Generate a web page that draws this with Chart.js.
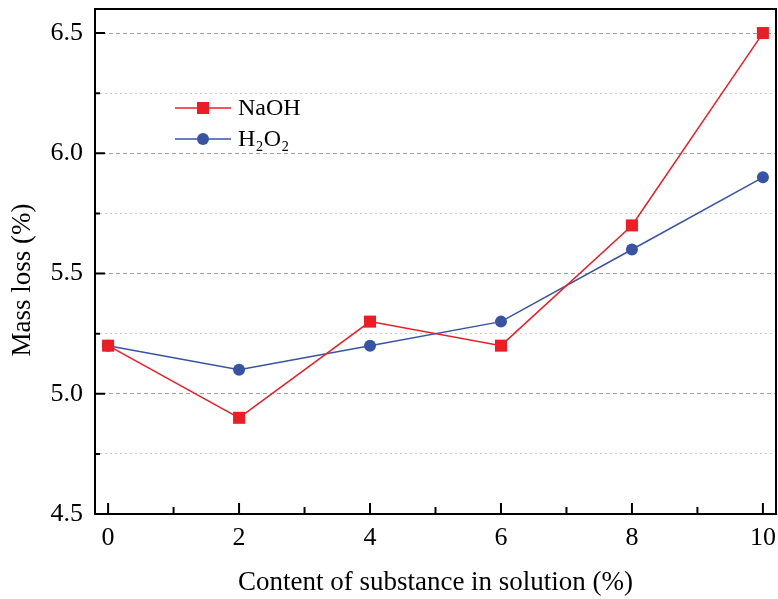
<!DOCTYPE html>
<html>
<head>
<meta charset="utf-8">
<script src="https://cdn.jsdelivr.net/npm/chart.js@4"></script>
<style>
html,body{margin:0;padding:0;background:#fff;}
#wrap{width:778px;height:599px;position:relative;}
</style>
</head>
<body>
<div id="wrap"><canvas id="c" width="778" height="599"></canvas></div>
<script>
const xValues = [0, 2, 4, 6, 8, 10];
const naohValues = [5.2, 4.9, 5.3, 5.2, 5.7, 6.5];
const h2o2Values = [5.2, 5.1, 5.2, 5.3, 5.6, 5.9];
const seriesLabels = ['NaOH', 'H₂O₂'];
const xMajorTicks = [0, 2, 4, 6, 8, 10];
const xMinorTicks = [1, 3, 5, 7, 9];
const yTicks = [4.5, 4.75, 5.0, 5.25, 5.5, 5.75, 6.0, 6.25, 6.5];
const yMajorTicks = [4.5, 5.0, 5.5, 6.0, 6.5];
const xTitle = 'Content of substance in solution (%)';
const yTitle = 'Mass loss (%)';

const RED = '#ee1c25';
const BLUE = '#3953a4';
const FONT = '"Liberation Serif", "Times New Roman", serif';

function isMajorY(v){ return yMajorTicks.some(m => Math.abs(m - v) < 1e-6); }

const framePlugin = {
  id: 'frame',
  afterDraw(chart) {
    const ctx = chart.ctx;
    const a = chart.chartArea;
    const xs = chart.scales.x, ys = chart.scales.y;
    ctx.save();
    ctx.strokeStyle = '#000';
    ctx.lineWidth = 2;
    ctx.strokeRect(a.left, a.top, a.right - a.left, a.bottom - a.top);
    ctx.beginPath();
    xMajorTicks.forEach(v => { const p = xs.getPixelForValue(v); ctx.moveTo(p, a.bottom); ctx.lineTo(p, a.bottom - 11); });
    xMinorTicks.forEach(v => { const p = xs.getPixelForValue(v); ctx.moveTo(p, a.bottom); ctx.lineTo(p, a.bottom - 7); });
    yTicks.forEach(v => { const p = ys.getPixelForValue(v); const len = isMajorY(v) ? 10 : 5; ctx.moveTo(a.left, p); ctx.lineTo(a.left + len, p); });
    ctx.stroke();
    // y title
    ctx.save();
    ctx.translate(23, 280);
    ctx.rotate(-Math.PI / 2);
    ctx.font = '27px ' + FONT;
    ctx.fillStyle = '#000';
    ctx.textAlign = 'center';
    ctx.textBaseline = 'middle';
    ctx.fillText(yTitle, 0, 0);
    ctx.restore();
    // legend
    const items = chart.data.datasets;
    const lx0 = 175, lx1 = 231, mx = 203, tx = 238;
    const ly = [108, 139];
    ctx.font = '24px ' + FONT;
    ctx.textBaseline = 'middle';
    ctx.textAlign = 'left';
    items.forEach((ds, i) => {
      const y = ly[i];
      ctx.strokeStyle = ds.borderColor;
      ctx.lineWidth = 1.5;
      ctx.beginPath(); ctx.moveTo(lx0, y); ctx.lineTo(lx1, y); ctx.stroke();
      ctx.fillStyle = ds.backgroundColor;
      if (ds.pointStyle === 'rect') {
        ctx.fillRect(mx - 6, y - 6, 12, 12);
      } else {
        ctx.beginPath(); ctx.arc(mx, y, 6, 0, Math.PI * 2); ctx.fill();
      }
      ctx.fillStyle = '#000';
      ctx.fillText(ds.label, tx, y + 1);
    });
    ctx.restore();
  }
};

function zeroPad(s) { s.paddingTop = 0; s.paddingBottom = 0; s.paddingLeft = 0; s.paddingRight = 0; }

new Chart(document.getElementById('c'), {
  type: 'line',
  data: {
    datasets: [
      {
        label: seriesLabels[0],
        data: xValues.map((x, i) => ({x: x, y: naohValues[i]})),
        borderColor: RED, backgroundColor: RED,
        borderWidth: 1.5, pointStyle: 'rect', pointRadius: 8.5,
        pointBorderWidth: 0, tension: 0
      },
      {
        label: seriesLabels[1],
        data: xValues.map((x, i) => ({x: x, y: h2o2Values[i]})),
        borderColor: BLUE, backgroundColor: BLUE,
        borderWidth: 1.5, pointStyle: 'circle', pointRadius: 6,
        pointBorderWidth: 0, tension: 0
      }
    ]
  },
  plugins: [framePlugin],
  options: {
    responsive: false,
    animation: false,
    devicePixelRatio: 1,
    layout: { autoPadding: false, padding: { top: 9, right: 2, left: 0, bottom: 0 } },
    plugins: { legend: { display: false }, tooltip: { enabled: false } },
    scales: {
      x: {
        type: 'linear', min: -0.2, max: 10.2,
        afterBuildTicks: s => { s.ticks = xMajorTicks.map(v => ({value: v})); },
        afterFit: s => { s.height = 85; zeroPad(s); },
        grid: { display: false, drawTicks: false },
        border: { display: false },
        ticks: { color: '#000', font: { family: FONT, size: 26 }, padding: 9, maxRotation: 0, autoSkip: false,
                 callback: v => String(v) },
        title: { display: true, text: xTitle, color: '#000', font: { family: FONT, size: 27 }, padding: { top: 0, bottom: 0 } }
      },
      y: {
        type: 'linear', min: 4.5, max: 6.6,
        afterBuildTicks: s => { s.ticks = yTicks.map(v => ({value: v})); },
        afterFit: s => { s.width = 95; zeroPad(s); },
        grid: {
          drawTicks: false,
          color: ctx => {
            const v = ctx.tick ? ctx.tick.value : 0;
            if (Math.abs(v - 4.5) < 1e-6) return 'rgba(0,0,0,0)';
            return isMajorY(v) ? '#a0a0a0' : '#d0d0d0';
          },
          lineWidth: 1
        },
        border: {
          display: false,
          dash: ctx => (ctx.tick && isMajorY(ctx.tick.value)) ? [4, 3] : [2, 3]
        },
        ticks: { color: '#000', font: { family: FONT, size: 26 }, padding: 12, autoSkip: false,
                 callback: v => isMajorY(v) ? v.toFixed(1) : '' },
        title: { display: false }
      }
    }
  }
});
</script>
</body>
</html>
